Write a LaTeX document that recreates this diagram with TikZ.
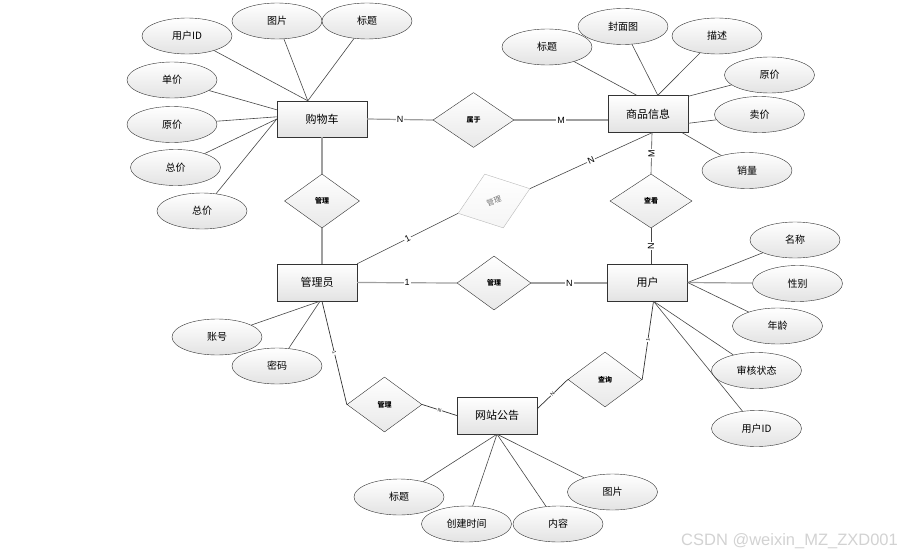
\documentclass[tikz,border=0pt]{standalone}
\usepackage{fontspec}
\newfontfamily\cjk{Noto Sans CJK SC}
\newfontfamily\lab{Liberation Sans}
\usetikzlibrary{shapes.geometric}
\begin{document}
\begin{tikzpicture}[x=1pt,y=-1pt,
  ent/.style={rectangle, draw=gray!40!black, top color=white, bottom color=gray!22, minimum width=80pt, minimum height=37pt, inner sep=0pt, font=\cjk\fontsize{11}{12}\selectfont},
  rel/.style={diamond, draw=gray!40!black, top color=white, bottom color=gray!18, inner sep=0pt, font=\cjk\bfseries\fontsize{7}{8}\selectfont},
  attr/.style={ellipse, draw=gray!40!black, top color=white, bottom color=gray!22, minimum width=90pt, minimum height=36pt, inner sep=0pt, font=\cjk\fontsize{10}{12}\selectfont},
  al/.style={draw=black!72, line width=0.6pt},
  rl/.style={draw=gray!75, line width=1.2pt},
  dl/.style={draw=black!80, line width=0.7pt},
  lbl/.style={fill=white, inner sep=1pt, font=\lab\fontsize{9}{10}\selectfont},
  tl/.style={fill=white, inner sep=0.5pt, font=\lab\fontsize{5}{6}\selectfont, sloped},
]
\useasboundingbox (0,0) rectangle (904,551);
% entities
\node[ent, minimum width=90pt, minimum height=36pt] (gwc) at (322,119) {购物车};
\node[ent] (spxx) at (648,114) {商品信息};
\node[ent] (gly) at (317,282.5) {管理员};
\node[ent] (yh) at (647.5,282.5) {用户};
\node[ent] (wzgg) at (497,415.5) {网站公告};
% relationships
\node[rel, minimum width=81pt, minimum height=55pt] (sy) at (473.5,120) {属于};
\node[rel, minimum width=75pt, minimum height=54pt] (gl1) at (322,201) {管理};
\node[rel, minimum width=76pt, minimum height=57pt, rotate=19, draw=gray!55, bottom color=gray!8, text=black!55, font=\cjk\fontsize{7.5}{8}\selectfont] (gl2) at (494,201) {管理};
\node[rel, minimum width=74pt, minimum height=54pt] (gl3) at (494,283) {管理};
\node[rel, minimum width=82pt, minimum height=54pt] (ck) at (651,201) {查看};
\node[rel, minimum width=74pt, minimum height=55pt] (cx) at (605,379.5) {查询};
\node[rel, minimum width=75pt, minimum height=55pt] (gl4) at (384.5,404.5) {管理};
% attributes of cart
\node[attr] (a1) at (187,36) {用户ID};
\node[attr] (a2) at (277,21) {图片};
\node[attr] (a3) at (367,21) {标题};
\node[attr] (a4) at (172,80) {单价};
\node[attr] (a5) at (172,124.5) {原价};
\node[attr] (a6) at (175.5,167.5) {总价};
\node[attr] (a7) at (202,211) {总价};
% attributes of product
\node[attr] (b1) at (547,47) {标题};
\node[attr] (b2) at (623,26.5) {封面图};
\node[attr] (b3) at (717,36) {描述};
\node[attr] (b4) at (769.5,75) {原价};
\node[attr] (b5) at (759.5,114.5) {卖价};
\node[attr] (b6) at (747,170.5) {销量};
% attributes of user
\node[attr] (c1) at (795,240) {名称};
\node[attr] (c2) at (797.5,283.5) {性别};
\node[attr] (c3) at (777.5,326) {年龄};
\node[attr] (c4) at (756.5,370.5) {审核状态};
\node[attr] (c5) at (756.5,428.5) {用户ID};
% attributes of admin
\node[attr] (d1) at (217,337) {账号};
\node[attr] (d2) at (277,366) {密码};
% attributes of notice
\node[attr] (e1) at (399,497) {标题};
\node[attr] (e2) at (466.5,524) {创建时间};
\node[attr] (e3) at (558,524) {内容};
\node[attr] (e4) at (612.5,492) {图片};
% attribute lines
\draw[al] (a1) -- ([xshift=31pt]gwc.north west);
\draw[al] (a2) -- ([xshift=31pt]gwc.north west);
\draw[al] (a3) -- ([xshift=31pt]gwc.north west);
\draw[al] (a4) -- ([yshift=-9pt]gwc.north west);
\draw[al] (a5) -- ([yshift=-16pt]gwc.north west);
\draw[al] (a6) -- (gwc.west);
\draw[al] (a7) -- (gwc.west);
\draw[al] (b1) -- ([xshift=29pt]spxx.north west);
\draw[al] (b2) -- ([xshift=50pt]spxx.north west);
\draw[al] (b3) -- ([xshift=50pt]spxx.north west);
\draw[al] (b4) -- ([yshift=-1pt]spxx.north east);
\draw[al] (b5) -- ([yshift=-28pt]spxx.north east);
\draw[al] (b6) -- ([xshift=-6pt]spxx.south east);
\draw[al] (c1) -- (yh.east);
\draw[rl] (c2) -- (yh.east);
\draw[al] (c3) -- (yh.east);
\draw[al] (c4) -- ([xshift=6pt]yh.south);
\draw[al] (c5) -- ([xshift=6pt]yh.south);
\draw[al] (d1) -- ([xshift=3pt]gly.south);
\draw[al] (d2) -- ([xshift=3pt]gly.south);
\draw[al] (e1) -- (wzgg.south);
\draw[al] (e2) -- (wzgg.south);
\draw[al] (e3) -- (wzgg.south);
\draw[al] (e4) -- (wzgg.south);
% relationship lines
\draw[rl] (gwc.east) -- node[lbl]{N} (sy.west);
\draw[rl] (sy.east) -- node[lbl]{M} (sy.east -| spxx.west);
\draw[rl] (gwc.south) -- (gl1.north);
\draw[rl] (gl1.south) -- (gl1.south |- gly.north);
\draw[al] (gly.north east) -- node[lbl, sloped]{1} (gl2.west);
\draw[al] (gl2.east) -- node[lbl, sloped]{N} ([xshift=4pt]spxx.south);
\draw[al] ([xshift=4pt]spxx.south) -- node[lbl, rotate=90]{M} (ck.north);
\draw[al] (ck.south) -- node[lbl, rotate=90]{N} (ck.south |- yh.north);
\draw[rl] (gly.east) -- node[lbl]{1} (gl3.west);
\draw[rl] (gl3.east) -- node[lbl]{N} (gl3.east -| yh.west);
\draw[dl] ([xshift=5pt]gly.south) -- node[tl]{1} (gl4.west);
\draw[dl] (gl4.east) -- node[tl]{N} (wzgg.west);
\draw[dl] ([xshift=6pt]yh.south) -- node[tl]{1} (cx.east);
\draw[dl] (cx.west) -- node[tl]{N} ([yshift=-12pt]wzgg.north east);
% watermark
\node[font=\lab\fontsize{16.5}{18}\selectfont, text=gray!35, anchor=base west, inner sep=0pt] (wm) at (681,545) {CSDN @weixin\_MZ\_ZXD001};
\end{tikzpicture}
\end{document}
